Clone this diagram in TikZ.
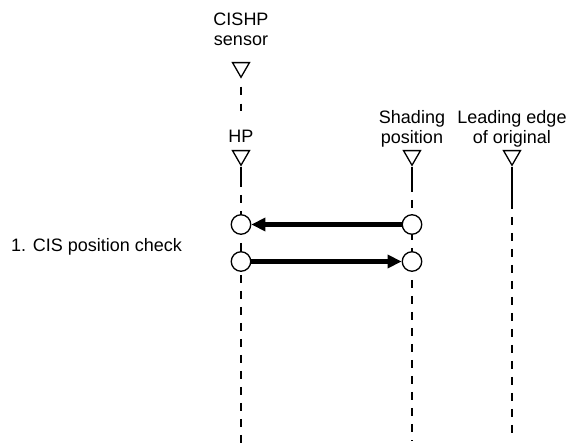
\documentclass[tikz,border=0pt]{standalone}
\usepackage{fontspec}
\setmainfont{Liberation Sans}
\usetikzlibrary{shapes.geometric, arrows.meta, positioning}

\begin{document}
\begin{tikzpicture}[x=1pt, y=-1pt,
        label text/.style = {align=center, inner sep=0pt, font=\fontsize{18}{20}\selectfont},
        marker/.style = {draw, regular polygon, regular polygon sides=3, shape border rotate=180, minimum size=19.5pt, inner sep=0pt, line width=1.3pt, anchor=north},
        check point/.style = {draw, circle, fill=white, minimum size=19.5pt, inner sep=0pt, line width=1.3pt},
        life line/.style = {line width=1.3pt},
        dashed life/.style = {line width=1.4pt, dash pattern=on 8pt off 8pt, dash phase=8pt},
        move arrow/.style = {-{Triangle[length=14pt, width=13pt]}, line width=4.2pt}
    ]
    \useasboundingbox (0,0) rectangle (576,446);

    % Markers
    \node (sensor mark) [marker] at (241,62) {};
    \node (hp mark) [marker] at (241,150) {};
    \node (shade mark) [marker] at (412,150) {};
    \node (lead mark) [marker] at (512,150) {};

    % Labels
    \node (sensor label) [label text, above=16pt of sensor mark] {CISHP\\sensor};
    \node (hp label) [label text, above=7pt of hp mark] {HP};
    \node (shade label) [label text, above=2.5pt of shade mark] {Shading\\position};
    \node (lead label) [label text, above=2.5pt of lead mark] {Leading edge\\of original};
    \node (check label) [label text, anchor=base west] at (11,252) {1. CIS position check};

    % Life lines
    \coordinate (sensor end) at (241,111);
    \coordinate (hp solid) at (241,187);
    \coordinate (hp end) at (241,443);
    \coordinate (shade solid) at (412,192);
    \coordinate (shade end) at (412,441);
    \coordinate (lead solid) at (512,209);
    \coordinate (lead end) at (512,435);

    \draw[dashed life, dash pattern=on 8pt off 9pt, dash phase=9pt] (sensor mark.south) -- (sensor end);
    \draw[life line] (hp mark.south) -- (hp solid);
    \draw[dashed life] (hp solid) -- (hp end);
    \draw[life line] (shade mark.south) -- (shade solid);
    \draw[dashed life] (shade solid) -- (shade end);
    \draw[life line] (lead mark.south) -- (lead solid);
    \draw[dashed life] (lead solid) -- (lead end);

    % Check points
    \node (hp top) [check point] at (241,224.5) {};
    \node (shade top) [check point] at (412,224.5) {};
    \node (hp low) [check point] at (241,261.5) {};
    \node (shade low) [check point] at (412,261.5) {};

    % Arrows
    \draw[move arrow] (shade top) -- (hp top);
    \draw[move arrow] (hp low) -- (shade low);

\end{tikzpicture}
\end{document}
